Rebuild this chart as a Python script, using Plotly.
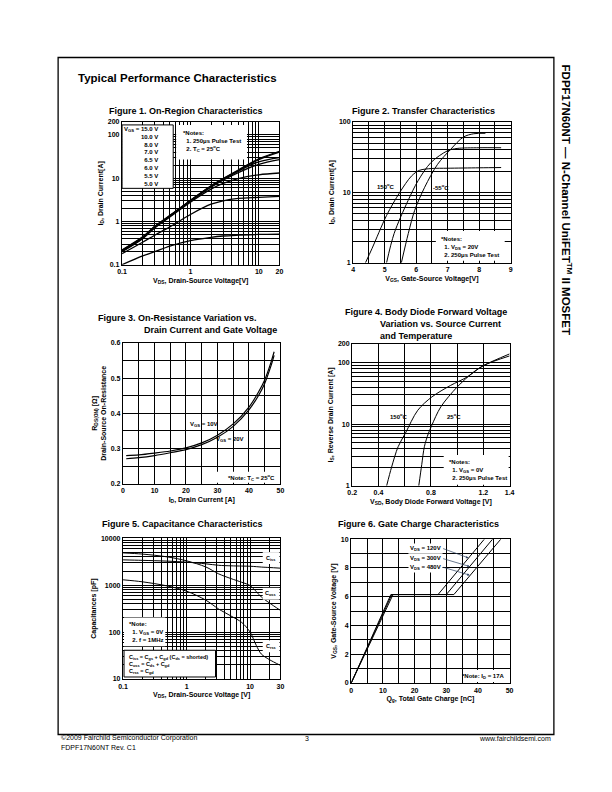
import plotly.graph_objects as go

W, H = 612, 792
FONT = "Liberation Sans, Arial, sans-serif"


def px(x):
    return x / W


def py(y):
    return 1 - y / H


# ---------------- data ----------------
# Figure 1: On-Region Characteristics
f1_vds = [0.1, 0.2, 0.3, 0.5, 1, 2, 3, 5, 10, 20]
f1_id_15v = [0.22, 0.44, 0.77, 1.38, 3.1, 6.7, 9.8, 15.5, 28, 42]
f1_id_10v = [0.215, 0.43, 0.76, 1.36, 3.05, 6.6, 9.6, 15.0, 27, 40]
f1_id_8v = [0.21, 0.42, 0.75, 1.34, 3.0, 6.5, 9.4, 14.5, 24, 30]
f1_id_7v = [0.205, 0.41, 0.73, 1.31, 2.95, 6.2, 9.0, 13.5, 21, 27]
f1_id_6v5 = [0.2, 0.4, 0.71, 1.27, 2.8, 5.6, 7.6, 9.8, 12, 13.2]
f1_id_6v = [0.18, 0.33, 0.48, 0.75, 1.45, 2.5, 3.0, 3.4, 3.6, 3.8]
f1_id_5v5 = [0.1, 0.16, 0.2, 0.27, 0.36, 0.43, 0.46, 0.48, 0.5, 0.51]
f1_legend = ["V<sub>GS</sub> = 15.0 V", "10.0 V", "8.0 V", "7.0 V", "6.5 V", "6.0 V", "5.5 V", "5.0 V"]

# Figure 2: Transfer Characteristics
f2_vgs_150 = [4.39, 4.6, 5.06, 5.48, 5.85, 6.1, 6.5, 7.0, 8.0, 8.7]
f2_id_150 = [1, 1.6, 4.7, 10, 17, 20.5, 21.8, 22, 22.3, 22.5]
f2_vgs_25 = [5.06, 5.3, 5.74, 6.06, 6.47, 7.0, 7.3, 8.0, 8.7]
f2_id_25 = [1, 2.6, 7.6, 14.6, 26.5, 39, 42, 43, 43]
f2_vgs_m55 = [5.53, 5.75, 5.95, 6.27, 6.68, 7.1, 7.5, 7.83, 8.2]
f2_id_m55 = [1, 2.6, 5.5, 11.8, 25, 41, 61, 68, 69]

# Figure 3: On-Resistance vs Drain Current
f3_id = [1, 5, 10, 15, 20, 25, 30, 35, 40, 43, 45, 47, 48]
f3_r_10v = [0.280, 0.282, 0.287, 0.293, 0.302, 0.316, 0.338, 0.370, 0.418, 0.460, 0.495, 0.545, 0.575]
f3_r_20v = [0.271, 0.274, 0.280, 0.288, 0.297, 0.311, 0.332, 0.363, 0.410, 0.450, 0.485, 0.535, 0.565]

# Figure 4: Body diode forward voltage
f4_vsd_150 = [0.4625, 0.50, 0.55, 0.605, 0.70, 0.807, 0.95, 1.075, 1.2, 1.4]
f4_is_150 = [1, 2.0, 4.3, 7.1, 16.8, 27.6, 42.5, 58, 89, 128]
f4_vsd_25 = [0.7075, 0.73, 0.75, 0.78, 0.807, 0.875, 1.0, 1.125, 1.2, 1.4]
f4_is_25 = [1, 2.2, 4.3, 7, 9.6, 19, 40, 70, 89, 138]

# Figure 5: Capacitance
f5_vds = [0.1, 0.2, 0.5, 1, 2, 3.2, 5, 7.4, 10, 12.5, 15, 20, 30]
f5_c_upper = [4870, 4600, 4000, 3300, 2450, 1740, 1380, 1150, 980, 730, 560, 420, 290]
f5_c_flat = [3460, 3380, 3250, 3090, 2850, 2650, 2580, 2550, 2530, 2480, 2430, 2380, 2300]
f5_c_rss = [1300, 1180, 960, 745, 480, 310, 220, 160, 100, 52, 34, 26, 19.5]

# Figure 6: Gate charge
f6_qg_120 = [0, 12.5, 27.4, 42.0]
f6_qg_300 = [0, 12.8, 30.0, 44.6]
f6_qg_480 = [0, 13.2, 32.4, 47.2]
f6_vgs = [0, 6.15, 6.15, 10]

# ---------------- figure ----------------
fig = go.Figure()


def add_line(x, y, n, width=1.0, shape="spline"):
    fig.add_trace(go.Scatter(
        x=x, y=y, xaxis="x" if n == 1 else f"x{n}", yaxis="y" if n == 1 else f"y{n}",
        mode="lines", line=dict(color="black", width=width, shape=shape, smoothing=0.9),
        showlegend=False, hoverinfo="skip"))


for ys in [f1_id_15v, f1_id_10v, f1_id_8v, f1_id_7v, f1_id_6v5, f1_id_6v, f1_id_5v5]:
    add_line(f1_vds, ys, 1, width=1.3)
add_line(f2_vgs_150, f2_id_150, 2)
add_line(f2_vgs_25, f2_id_25, 2)
add_line(f2_vgs_m55, f2_id_m55, 2)
add_line(f3_id, f3_r_10v, 3, width=1.2)
add_line(f3_id, f3_r_20v, 3, width=1.2)
add_line(f4_vsd_150, f4_is_150, 4)
add_line(f4_vsd_25, f4_is_25, 4)
add_line(f5_vds, f5_c_upper, 5)
add_line(f5_vds, f5_c_flat, 5)
add_line(f5_vds, f5_c_rss, 5)
add_line(f6_qg_120, f6_vgs, 6, shape="linear")
add_line(f6_qg_300, f6_vgs, 6, shape="linear")
add_line(f6_qg_480, f6_vgs, 6, shape="linear")

TICKFONT = dict(family=FONT, size=7, color="black", weight="bold")
TITLEFONT = dict(family=FONT, size=7, color="black", weight="bold")


def log_minor(decades, upto=None):
    vals = []
    for d in decades:
        for k in range(2, 10):
            v = k * d
            if upto is None or v < upto:
                vals.append(v)
    return vals


def ax(domain, anchor, title, log=False, rng=None, major=None, labels=None, minor=None, standoff=3):
    d = dict(domain=domain, anchor=anchor, showline=True, mirror=True, linecolor="black",
             linewidth=1.4, ticks="", showgrid=True, gridcolor="black", gridwidth=1.1,
             zeroline=False, tickfont=TICKFONT, fixedrange=True,
             title=dict(text=title, font=TITLEFONT, standoff=standoff))
    if log:
        d["type"] = "log"
    if rng is not None:
        d["range"] = rng
    if major is not None:
        d["tickmode"] = "array"
        d["tickvals"] = major
        d["ticktext"] = labels
    if minor is not None:
        d["minor"] = dict(tickmode="array", tickvals=minor, showgrid=True,
                          gridcolor="black", gridwidth=0.6, ticks="")
    return d


lay = dict(width=W, height=H, autosize=False, margin=dict(l=0, r=0, t=0, b=0),
           paper_bgcolor="white", plot_bgcolor="white", showlegend=False,
           font=dict(family=FONT, color="black"))

# Fig 1
lay["xaxis"] = ax([px(119), px(279)], "y", "V<sub>DS</sub>, Drain-Source Voltage[V]", log=True,
                  rng=[-1, 1.30103], major=[0.1, 1, 10, 20], labels=["0.1", "1", "10", "20"],
                  minor=log_minor([0.1, 1]))
lay["yaxis"] = ax([py(263), py(119)], "x", "I<sub>D</sub>, Drain Current[A]", log=True,
                  rng=[-1, 2.30103], major=[0.1, 1, 10, 100, 200],
                  labels=["0.1", "1", "10", "100", "200"], minor=log_minor([0.1, 1, 10]))
# Fig 2
lay["xaxis2"] = ax([px(354), px(514)], "y2", "V<sub>GS</sub>, Gate-Source Voltage[V]",
                   rng=[4, 9], major=[4, 5, 6, 7, 8, 9], labels=["4", "5", "6", "7", "8", "9"],
                   minor=[4.5, 5.5, 6.5, 7.5, 8.5])
lay["yaxis2"] = ax([py(261), py(119)], "x2", "I<sub>D</sub>, Drain Current[A]", log=True,
                   rng=[0, 2], major=[1, 10, 100], labels=["1", "10", "100"],
                   minor=log_minor([1, 10]))
# Fig 3
lay["xaxis3"] = ax([px(120), px(280)], "y3", "I<sub>D</sub>, Drain Current [A]",
                   rng=[0, 50], major=[0, 10, 20, 30, 40, 50],
                   labels=["0", "10", "20", "30", "40", "50"], minor=[5, 15, 25, 35, 45])
lay["yaxis3"] = ax([py(484), py(342)], "x3",
                   "R<sub>DS(ON)</sub> [Ω]<br>Drain-Source On-Resistance",
                   rng=[0.2, 0.6], major=[0.2, 0.3, 0.4, 0.5, 0.6],
                   labels=["0.2", "0.3", "0.4", "0.5", "0.6"], minor=[0.25, 0.35, 0.45, 0.55])
# Fig 4
lay["xaxis4"] = ax([px(353), px(513)], "y4", "V<sub>SD</sub>, Body Diode Forward Voltage [V]",
                   rng=[0.2, 1.4], major=[0.2, 0.4, 0.8, 1.2, 1.4],
                   labels=["0.2", "0.4", "0.8", "1.2", "1.4"], minor=[0.6, 1.0])
lay["yaxis4"] = ax([py(486), py(343)], "x4", "I<sub>S</sub>, Reverse Drain Current [A]", log=True,
                   rng=[0, 2.30103], major=[1, 10, 100, 200], labels=["1", "10", "100", "200"],
                   minor=log_minor([1, 10], upto=200))
# Fig 5
lay["xaxis5"] = ax([px(120), px(280)], "y5", "V<sub>DS</sub>, Drain-Source Voltage [V]", log=True,
                   rng=[-1, 1.4771], major=[0.1, 1, 10, 30], labels=["0.1", "1", "10", "30"],
                   minor=log_minor([0.1, 1]) + [20])
lay["yaxis5"] = ax([py(681), py(539)], "x5", "Capacitances [pF]", log=True,
                   rng=[1, 4], major=[10, 100, 1000, 10000],
                   labels=["10", "100", "1000", "10000"], minor=log_minor([10, 100, 1000]))
# Fig 6
lay["xaxis6"] = ax([px(352), px(513)], "y6", "Q<sub>g</sub>, Total Gate Charge [nC]",
                   rng=[0, 50], major=[0, 10, 20, 30, 40, 50],
                   labels=["0", "10", "20", "30", "40", "50"], minor=[5, 15, 25, 35, 45])
lay["yaxis6"] = ax([py(685), py(540)], "x6", "V<sub>GS</sub>, Gate-Source Voltage [V]",
                   rng=[0, 10], major=[0, 2, 4, 6, 8, 10],
                   labels=["0", "2", "4", "6", "8", "10"], minor=[1, 3, 5, 7, 9])

fig.update_layout(**lay)

shapes = []
annos = []


def rect(x0, y0, x1, y1, border=False):
    shapes.append(dict(type="rect", xref="paper", yref="paper", x0=px(x0), x1=px(x1),
                       y0=py(y1), y1=py(y0), layer="above", fillcolor="white",
                       line=dict(color="black" if border else "rgba(0,0,0,0)", width=1 if border else 0)))


def text(x, y, s, size=6.5, xanchor="left", align="left", bold=True, yanchor="middle", angle=0):
    annos.append(dict(xref="paper", yref="paper", x=px(x), y=py(y), text=s, showarrow=False,
                      xanchor=xanchor, yanchor=yanchor, align=align, textangle=angle,
                      font=dict(family=FONT, size=size, color="black",
                                weight="bold" if bold else "normal")))


# page border
shapes.append(dict(type="rect", xref="paper", yref="paper", x0=px(54), x1=px(558),
                   y0=py(737), y1=py(54), line=dict(color="black", width=1.3), layer="below"))

# Headings
text(72, 75, "Typical Performance Characteristics", size=11.5)
text(184, 108, "Figure 1. On-Region Characteristics", size=9, xanchor="center")
text(425, 108, "Figure 2. Transfer Characteristics", size=9, xanchor="center")
text(93, 317, "Figure 3. On-Resistance Variation vs.", size=9)
text(139, 329, "Drain Current and Gate Voltage", size=9)
text(344, 311, "Figure 4. Body Diode Forward Voltage", size=9)
text(379, 323, "Variation vs. Source Current", size=9)
text(379, 335, "and Temperature", size=9)
text(180, 525, "Figure 5. Capacitance Characteristics", size=9, xanchor="center")
text(420, 525, "Figure 6. Gate Charge Characteristics", size=9, xanchor="center")

# Fig 1 boxes
rect(119, 122, 171, 186, border=True)
text(158, 154, "<br>".join(f1_legend), size=6, xanchor="right", align="right")
rect(174, 122, 246, 157)
text(179, 139, "*Notes:<br>  1. 250μs Pulse Test<br>  2. T<sub>C</sub> = 25<sup>o</sup>C", size=6)

# Fig 2 notes & labels
rect(438, 229, 508, 259)
text(441, 245, "*Notes:<br>  1. V<sub>DS</sub> = 20V<br>  2. 250μs Pulse Test", size=6)
text(387, 184, "150<sup>o</sup>C", size=6, xanchor="center")
text(443, 185, "-55<sup>o</sup>C", size=6, xanchor="center")
annos.append(dict(xref="x2", yref="y2", x=5.78, y=7.6, axref="x2", ayref="y2", ax=6.45, ay=5.9,
                  text="25<sup>o</sup>C", showarrow=True, arrowhead=0, arrowwidth=0.8,
                  xanchor="left", font=dict(family=FONT, size=6, color="black", weight="bold")))

# Fig 3 labels
text(202, 424, "V<sub>GS</sub> = 10V", size=6, xanchor="center")
text(229, 439, "V<sub>GS</sub> = 20V", size=6, xanchor="center")
rect(215, 472, 279, 483)
text(277, 478, "*Note: T<sub>C</sub> = 25<sup>o</sup>C", size=6, xanchor="right")

# Fig 4 labels
text(401, 416, "150<sup>o</sup>C", size=6, xanchor="center")
text(456, 416, "25<sup>o</sup>C", size=6, xanchor="center")
rect(446, 455, 512, 485)
text(449, 470, "*Notes:<br>  1. V<sub>GS</sub> = 0V<br>  2. 250μs Pulse Test", size=6)

# Fig 5 labels
for yy, lab in [(559, "C<sub>iss</sub>"), (595, "C<sub>oss</sub>"), (648, "C<sub>rss</sub>")]:
    rect(262, yy - 6, 279, yy + 6)
    text(270, yy, lab, size=5.5, xanchor="center")
rect(121, 619, 163, 648)
text(124, 634, "*Note:<br>  1. V<sub>GS</sub> = 0V<br>  2. f = 1MHz", size=6)
rect(121, 652, 214, 679, border=True)
text(124, 666, "C<sub>iss</sub> = C<sub>gs</sub> + C<sub>gd</sub> (C<sub>ds</sub> = shorted)<br>"
               "C<sub>oss</sub> = C<sub>ds</sub> + C<sub>gd</sub><br>C<sub>rss</sub> = C<sub>gd</sub>", size=5.5)

# Fig 6 labels
for ttl, qx, qy, ty in [("V<sub>DS</sub> = 120V", 37.0, 8.7, 9.35),
                        ("V<sub>DS</sub> = 300V", 37.4, 8.1, 8.65),
                        ("V<sub>DS</sub> = 480V", 37.4, 7.5, 8.05)]:
    annos.append(dict(xref="x6", yref="y6", x=qx, y=qy, axref="x6", ayref="y6", ax=29.0, ay=ty,
                      text=ttl, showarrow=True, arrowhead=2, arrowsize=0.7, arrowwidth=0.7,
                      xanchor="right", bgcolor="white",
                      font=dict(family=FONT, size=6, color="black", weight="bold")))
rect(474, 672, 512, 684)
text(510, 678, "*Note: I<sub>D</sub> = 17A", size=6, xanchor="right")

# Side title
text(571, 197, "FDPF17N60NT — N-Channel UniFET<sup>TM</sup> II MOSFET", size=11.5,
     xanchor="center", angle=90)

# Footer
text(55, 741, "©2009 Fairchild Semiconductor Corporation", size=7, bold=False)
text(55, 750, "FDPF17N60NT Rev. C1", size=7, bold=False)
text(307, 741, "3", size=7, xanchor="center", bold=False)
text(557, 741, "www.fairchildsemi.com", size=7, xanchor="right", bold=False)

fig.update_layout(shapes=shapes, annotations=annos)
fig.write_html("out.html", config={"displayModeBar": False},
               post_script="document.body.style.margin='0';document.body.style.padding='0';")
